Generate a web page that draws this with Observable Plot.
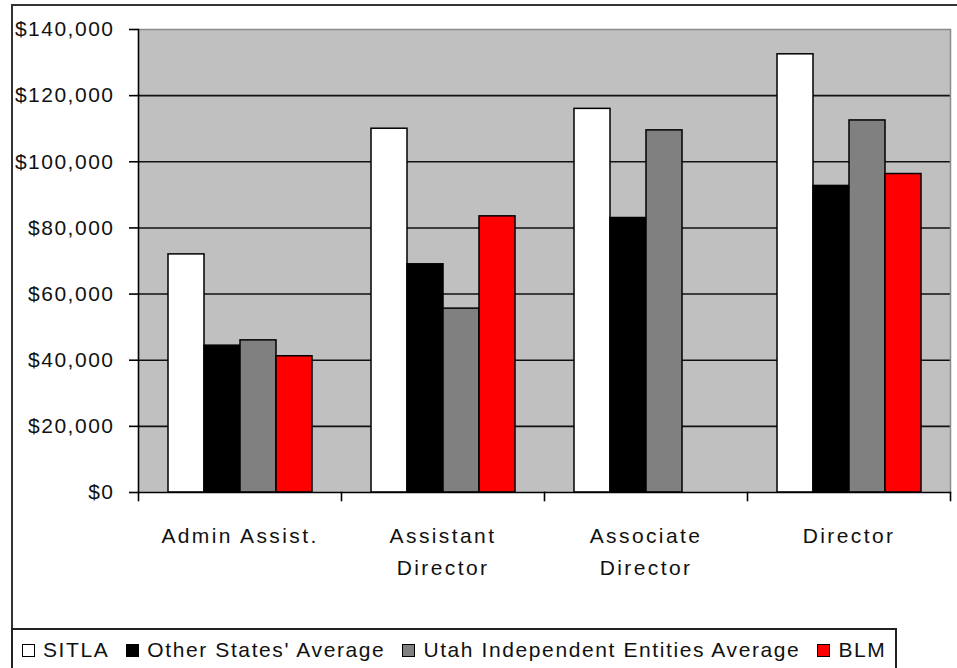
<!DOCTYPE html>
<html>
<head>
<meta charset="utf-8">
<script src="https://cdn.jsdelivr.net/npm/d3@7"></script>
<script src="https://cdn.jsdelivr.net/npm/@observablehq/plot@0.6"></script>
<style>
  html, body { margin: 0; padding: 0; background: #fff; }
  body { width: 957px; height: 668px; position: relative; overflow: hidden;
         font-family: "Liberation Sans", Arial, sans-serif; }
  #border { position: absolute; left: 11px; top: 4px; width: 1100px; height: 800px;
            border-left: 2px solid #333; border-top: 2px solid #333; }
  #chart { position: absolute; left: 0; top: 0; }
  #chart svg { overflow: visible; }
  #chart g[aria-label="y-axis tick label"] { letter-spacing: 1.5px; }
  #chart g[aria-label="text"] { letter-spacing: 2.4px; }
  #legend { position: absolute; left: 11px; top: 628px; width: 886px; height: 80px;
            border: 2px solid #222; box-sizing: border-box;
            display: flex; align-items: flex-start; padding: 8px 0 0 9px;
            font-size: 21px; letter-spacing: 1.6px; color: #111; }
  .item { display: flex; align-items: center; margin-right: 17px; white-space: nowrap; }
  .swatch { width: 11px; height: 11px; border: 1.5px solid #000; margin-right: 8px; flex: none; }
</style>
</head>
<body>
<div id="border"></div>
<div id="chart"></div>
<div id="legend"></div>
<script>
// Job categories and their axis labels
const categories = ["Admin Assist.", "Assistant Director", "Associate Director", "Director"];
const categoryLabels = ["Admin Assist.", "Assistant\nDirector", "Associate\nDirector", "Director"];

// Salary comparison series
const series = ["SITLA", "Other States' Average", "Utah Independent Entities Average", "BLM"];
const sitla        = [72000, 110000, 116000, 132500];
const otherStates  = [44400, 69000, 83000, 92700];
const utahEntities = [46000, 55600, 109500, 112500];
const blm          = [41200, 83500, null, 96300];
const seriesColors = ["#ffffff", "#000000", "#808080", "#ff0000"];

// Value axis ticks
const yTicks = [0, 20000, 40000, 60000, 80000, 100000, 120000, 140000];
const yMax = 140000;

const seriesValues = [sitla, otherStates, utahEntities, blm];
const rows = [];
categories.forEach((category, i) => {
  series.forEach((s, j) => {
    const value = seriesValues[j][i];
    if (value != null) rows.push({category, series: s, value});
  });
});

const marginTop = 29, marginBottom = 108, height = 600;
const plotHeight = height - marginTop - marginBottom;
const lastCategory = categories[categories.length - 1];

const chart = Plot.plot({
  width: 957,
  height,
  marginLeft: 138,
  marginRight: 7,
  marginTop,
  marginBottom,
  fx: {domain: categories, padding: 0, axis: null, label: null},
  x: {domain: series, paddingInner: 0, paddingOuter: 0.75, axis: null},
  y: {domain: [0, yMax], axis: null},
  color: {domain: series, range: seriesColors},
  style: {fontFamily: "'Liberation Sans', Arial, sans-serif", fontSize: "21px", color: "#111", background: "transparent"},
  marks: [
    // grey plot area (one panel per category, joined edge to edge)
    Plot.frame({fill: "#c0c0c0", stroke: null, shapeRendering: "crispEdges"}),
    // horizontal gridlines
    Plot.ruleY(yTicks.filter(d => d > 0 && d < yMax), {stroke: "#111", strokeWidth: 1.6}),
    // light border along the top and right of the plot area
    Plot.ruleY([yMax], {stroke: "#8c8c8c", strokeWidth: 1.5}),
    Plot.frame({anchor: "right", stroke: "#8c8c8c", strokeWidth: 1.5, fx: [lastCategory]}),
    // bars
    Plot.barY(rows, {fx: "category", x: "series", y: "value", fill: "series", stroke: "#000", strokeWidth: 1.5}),
    // axis lines
    Plot.ruleY([0], {stroke: "#000", strokeWidth: 1.6}),
    Plot.frame({anchor: "left", stroke: "#000", strokeWidth: 1.6, fx: [categories[0]]}),
    // category boundary ticks below the axis
    Plot.frame({anchor: "left", stroke: "#000", strokeWidth: 1.6, insetTop: plotHeight, insetBottom: -8}),
    Plot.frame({anchor: "right", stroke: "#000", strokeWidth: 1.6, insetTop: plotHeight, insetBottom: -8, fx: [lastCategory]}),
    // value axis
    Plot.axisY({ticks: yTicks, tickFormat: d3.format("$,"), tickSize: 9, tickPadding: 15, label: null, strokeWidth: 1.6, stroke: "#000", fill: "#111"}),
    // category labels
    Plot.text(categories, {
      fx: d => d,
      text: d => categoryLabels[categories.indexOf(d)],
      frameAnchor: "bottom",
      lineAnchor: "top",
      dy: 28,
      lineHeight: 1.52,
      fill: "#111"
    })
  ]
});
document.getElementById("chart").append(chart);

// legend row
const legend = document.getElementById("legend");
series.forEach((s, j) => {
  const item = document.createElement("div");
  item.className = "item";
  const sw = document.createElement("span");
  sw.className = "swatch";
  sw.style.background = seriesColors[j];
  const label = document.createElement("span");
  label.textContent = s;
  item.append(sw, label);
  legend.append(item);
});
</script>
</body>
</html>
